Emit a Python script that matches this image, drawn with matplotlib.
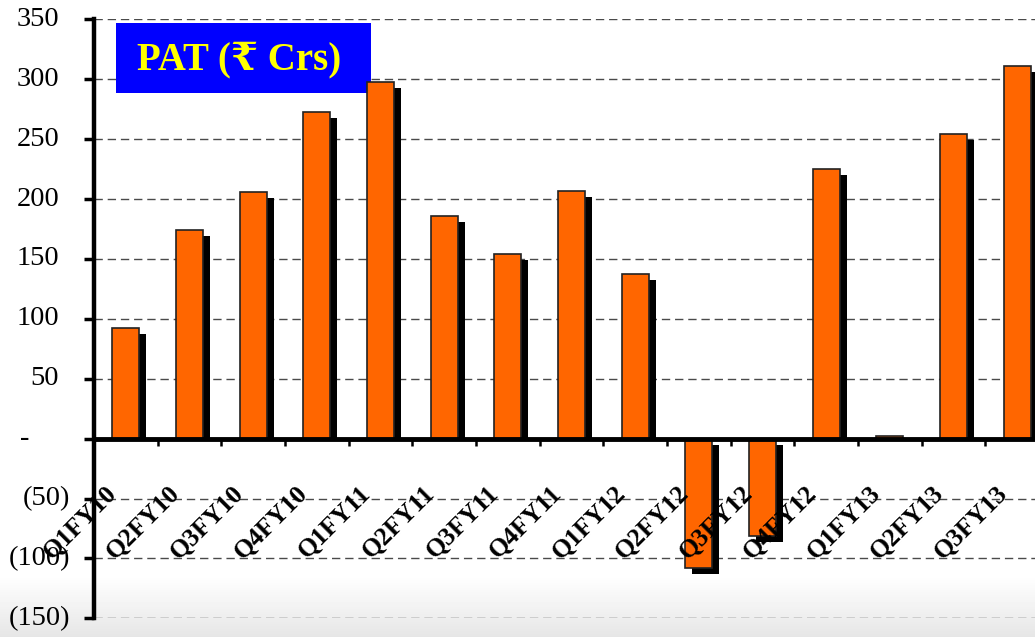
import numpy as np
import matplotlib
matplotlib.use('Agg')
import matplotlib.pyplot as plt
import matplotlib.transforms as mtransforms
from matplotlib.patches import Rectangle

plt.rcParams['font.family'] = ['Liberation Serif', 'DejaVu Serif', 'DejaVu Sans']

quarters = ['Q1FY10', 'Q2FY10', 'Q3FY10', 'Q4FY10', 'Q1FY11', 'Q2FY11', 'Q3FY11',
            'Q4FY11', 'Q1FY12', 'Q2FY12', 'Q3FY12', 'Q4FY12', 'Q1FY13', 'Q2FY13',
            'Q3FY13']
pat = [92, 174, 206, 273, 298, 186, 154, 207, 137, -108, -81, 225, 2, 254, 311]
yticks = [-150, -100, -50, 0, 50, 100, 150, 200, 250, 300, 350]
title = 'PAT (\u20b9 Crs)'

W, H = 1035, 637
fig = plt.figure(figsize=(W / 100, H / 100), dpi=100)

# slide background, white fading to light grey at the bottom
bg = fig.add_axes([0, 0, 1, 1], zorder=-10)
r = np.arange(H)
shade = np.where(r > 575, 1 - 0.1 * (r - 575) / (H - 575), 1.0)
bg.imshow(shade[:, None], aspect='auto', cmap='gray', vmin=0, vmax=1, extent=[0, 1, 0, 1])
bg.axis('off')

ax = fig.add_axes([94 / W, 18.7 / H, 955 / W, 599 / H])
ax.patch.set_alpha(0)

x = np.arange(len(quarters))

# black drop shadow: shifted right, dropped 5 units, never above the zero line
drop = 5
sh_bottom = [0 if v > 0 else -drop for v in pat]
sh_height = [max(v - drop, 0) if v > 0 else v for v in pat]
shift = mtransforms.ScaledTranslation(7 / 100, 0, fig.dpi_scale_trans)
shadows = ax.bar(x, sh_height, bottom=sh_bottom, width=0.42, color='black', zorder=2.9)
for s in shadows:
    s.set_transform(ax.transData + shift)
ax.bar(x, pat, width=0.42, color='#FF6600', edgecolor='#222222', linewidth=1.2, zorder=3)

ax.set_xlim(-0.5, len(quarters) - 0.5)
ax.set_ylim(-150, 350)
ax.set_yticks(yticks)
ax.set_yticklabels([''] * len(yticks))
ax.set_xticks(x[:-1] + 0.5)
ax.set_xticklabels([''] * (len(x) - 1))

ax.yaxis.grid(True, linestyle=(0, (6, 3.5)), color='#4a4a4a', linewidth=1)
ax.set_axisbelow(True)

ax.spines['top'].set_visible(False)
ax.spines['right'].set_visible(False)
ax.spines['bottom'].set_position(('data', 0))
ax.spines['bottom'].set_linewidth(3.5)
ax.spines['left'].set_linewidth(3.2)
ax.spines['bottom'].set_zorder(5)
ax.spines['left'].set_zorder(5)
ax.tick_params(axis='x', direction='out', length=5, width=1.8)
ax.tick_params(axis='y', direction='out', length=7, width=2.5)

# y labels in accounting style: (50) for negatives, - for zero
ylab_tr = mtransforms.blended_transform_factory(fig.transFigure, ax.transData)
for v in yticks:
    if v > 0:
        ax.text(59 / W, v, str(v), ha='right', va='center', fontsize=20.5, transform=ylab_tr)
    elif v < 0:
        ax.text(70 / W, v, '(%d)' % -v, ha='right', va='center', fontsize=20.5, transform=ylab_tr)
    else:
        ax.text(25 / W, v, '-', ha='center', va='center', fontsize=20.5, transform=ylab_tr)

for i, q in enumerate(quarters):
    ax.text(i - 0.08, -36, q, rotation=45, ha='right', va='top', fontsize=18.5,
            fontweight='bold', zorder=6)

# title box
ax.add_patch(Rectangle((116 / W, 1 - 93 / H), 255 / W, 70 / H, transform=fig.transFigure,
                       facecolor='#0000FF', edgecolor='none', zorder=2.5, clip_on=False))
ax.text(239.5 / W, 1 - 60 / H, title, transform=fig.transFigure, color='#FFFF00',
        fontsize=28, fontweight='bold', ha='center', va='center', zorder=2.6)

fig.savefig('out.png', dpi=100)
